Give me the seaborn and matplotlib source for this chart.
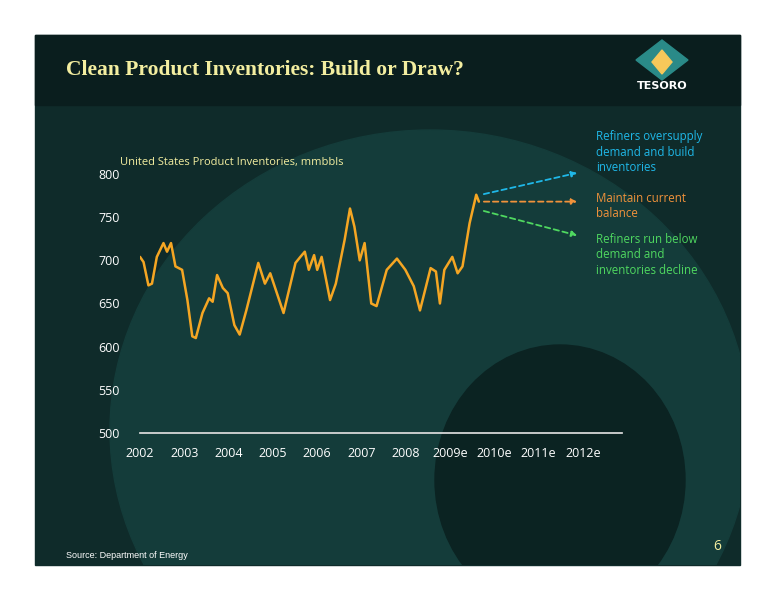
import matplotlib
matplotlib.use("Agg")
import matplotlib.pyplot as plt
import seaborn as sns
import pandas as pd
from matplotlib.patches import Rectangle, Polygon, Ellipse

years = [2002.0, 2002.08, 2002.19, 2002.27, 2002.38, 2002.53, 2002.61, 2002.70, 2002.80, 2002.95,
         2003.07, 2003.18, 2003.26, 2003.41, 2003.56, 2003.64, 2003.74, 2003.87, 2003.98, 2004.13,
         2004.25, 2004.40, 2004.67, 2004.82, 2004.94, 2005.24, 2005.51, 2005.62, 2005.72, 2005.81,
         2005.93, 2006.0, 2006.10, 2006.29, 2006.42, 2006.62, 2006.74, 2006.84, 2006.96, 2007.07,
         2007.22, 2007.34, 2007.57, 2007.80, 2007.99, 2008.18, 2008.32, 2008.56, 2008.68, 2008.77,
         2008.87, 2009.05, 2009.17, 2009.28, 2009.44, 2009.59, 2009.65]
inventory = [704, 698, 671, 673, 704, 720, 710, 720, 693, 689,
             654, 612, 610, 639, 656, 652, 683, 668, 662, 625,
             614, 642, 697, 673, 685, 639, 697, 704, 710, 689,
             706, 689, 704, 654, 673, 724, 760, 739, 700, 720,
             650, 647, 689, 702, 689, 670, 642, 691, 687, 650,
             689, 704, 685, 693, 743, 776, 768]
tick_pos = list(range(2002, 2013))
tick_labels = ["2002", "2003", "2004", "2005", "2006", "2007", "2008",
               "2009e", "2010e", "2011e", "2012e"]
y_ticks = [500, 550, 600, 650, 700, 750, 800]
scenarios = ["Refiners oversupply\ndemand and build\ninventories",
             "Maintain current\nbalance",
             "Refiners run below\ndemand and\ninventories decline"]
scenario_end = [802, 768, 728]
scenario_start = [776, 768, 758]
scenario_colors = ["#1fb8e8", "#f0923a", "#4fd860"]

sns.set_theme(style="white")
plt.rcParams['font.family'] = ['Open Sans', 'DejaVu Sans']

W, H = 776, 600
fig = plt.figure(figsize=(7.76, 6.0), dpi=100, facecolor="white")
def px(x, y, w, h):
    return (x / W, 1 - (y + h) / H, w / W, h / H)

bg = fig.add_axes([0, 0, 1, 1]); bg.set_axis_off(); bg.set_xlim(0, W); bg.set_ylim(H, 0)
panel = Rectangle((35, 35), 705, 530, color="#0f2b2a")
bg.add_patch(panel)
for e in [Ellipse((430, 430), 640, 600, color="#143c3a"),
          Ellipse((560, 480), 250, 270, color="#0b2322")]:
    bg.add_patch(e)
    e.set_clip_path(panel)
bg.add_patch(Rectangle((35, 35), 705, 70, color="#0a1e1e"))
bg.text(66, 70, "Clean Product Inventories: Build or Draw?", family="Liberation Serif",
        fontweight="bold", fontsize=15.5, color="#f3eea0", va="center")
bg.add_patch(Polygon([(662, 40), (688, 60), (662, 80), (636, 60)], color="#2a8a88"))
bg.add_patch(Polygon([(662, 50), (672, 62), (662, 74), (652, 62)], color="#f7c85a"))
bg.text(662, 81, "TESORO", fontweight="bold", fontsize=8, color="white", ha="center",
        va="top", family="DejaVu Sans")
bg.text(66, 555, "Source: Department of Energy", fontsize=6.5, color="white",
        family="Liberation Sans", va="center")
bg.text(717, 547, "6", fontsize=10, color="#f3eea0", ha="center", va="center")
bg.text(120, 162, "United States Product Inventories, mmbbls", fontsize=8,
        color="#f3eea0", va="center")
text_y = [152, 206, 255]
for s, c, ty in zip(scenarios, scenario_colors, text_y):
    bg.text(596, ty, s, color=c, fontsize=8.3, va="center", linespacing=1.25)

ax = fig.add_axes(px(140, 174, 482, 259))
ax.set_facecolor("none")
df = pd.DataFrame({"year": years, "inv": inventory})
sns.lineplot(data=df, x="year", y="inv", ax=ax, color="#f5a623", linewidth=1.8)
ax.set_xlim(2002, 2002 + 482 / 44.3)
ax.set_ylim(500, 800)
ax.set_xticks(tick_pos)
ax.set_xticklabels(tick_labels)
ax.set_yticks(y_ticks)
ax.tick_params(colors="white", labelsize=9, length=0, pad=10)
ax.tick_params(axis="y", pad=30)
for lab in ax.get_yticklabels():
    lab.set_horizontalalignment("left")
for side in ["top", "right", "left"]:
    ax.spines[side].set_visible(False)
ax.spines["bottom"].set_color("#dddddd")
ax.set_xlabel(""); ax.set_ylabel("")
for s0, s1, c in zip(scenario_start, scenario_end, scenario_colors):
    ax.annotate("", xy=(2011.93, s1), xytext=(2009.7, s0),
                arrowprops=dict(arrowstyle="-|>", color=c, linestyle=(0, (3, 2)),
                                lw=1.3, mutation_scale=8), annotation_clip=False)

fig.savefig("out.png", dpi=100, facecolor="white")
